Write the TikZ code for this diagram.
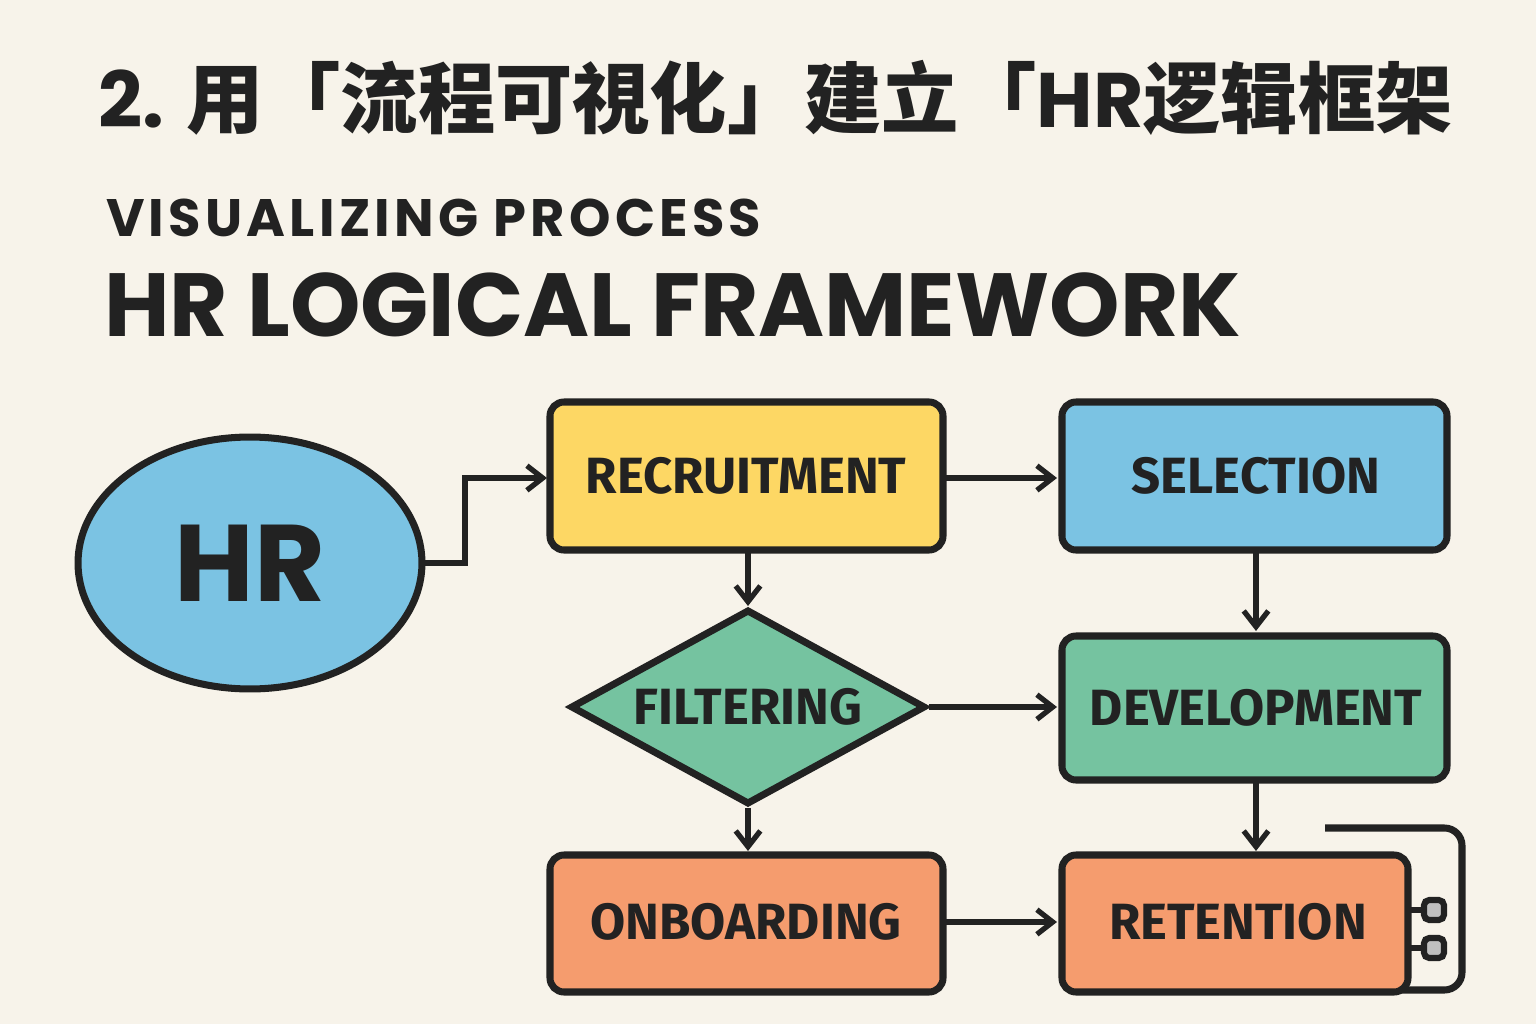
\documentclass[tikz,border=0pt]{standalone}
\usepackage{fontspec}
\setmainfont{Poppins}
\newfontfamily\cjk{Noto Sans CJK SC}
\newfontfamily\boxfont{Fira Sans}
\usetikzlibrary{shapes.geometric,arrows.meta}
\definecolor{paper}{HTML}{F7F3EA}
\definecolor{ink}{HTML}{222222}
\definecolor{hryellow}{HTML}{FDD764}
\definecolor{hrblue}{HTML}{7BC3E3}
\definecolor{hrgreen}{HTML}{75C3A0}
\definecolor{hrorange}{HTML}{F59C6E}
\tikzset{
  stepbox/.style={draw=ink, line width=4pt, rounded corners=8pt},
  boxtext/.style={font=\boxfont\bfseries\fontsize{29}{29}\selectfont, text=ink},
  link/.style={draw=ink, line width=3pt, -{Straight Barb[length=9pt,width=14pt,line width=3pt]}}
}
\begin{document}
\begin{tikzpicture}[x=0.02cm,y=-0.02cm]
  \fill[paper] (0,0) rectangle (1536,1024);
  \useasboundingbox (0,0) rectangle (1536,1024);

  % titles
  \node[anchor=west, inner sep=0, text=ink] (title) at (98,98)
    {\fontsize{44}{44}\selectfont\bfseries 2. {\cjk\bfseries 用「流程可視化」建立「}HR{\cjk\bfseries 逻辑框架}};
  \node[anchor=west, inner sep=0, text=ink] (sub) at (106,218)
    {\fontsize{30}{30}\selectfont\addfontfeature{LetterSpace=8}\bfseries VISUALIZING PROCESS};
  \node[anchor=west, inner sep=0, text=ink] (main) at (104,305)
    {\fontsize{51}{51}\selectfont\bfseries HR LOGICAL FRAMEWORK};

  % HR ellipse
  \node[ellipse, draw=ink, line width=4pt, fill=hrblue, inner sep=0,
        minimum width=6.88cm, minimum height=5.04cm] (hr) at (250,563)
    {\fontsize{62}{62}\selectfont\bfseries\color{ink}HR};

  % boxes
  \draw[stepbox, fill=hryellow] (550,402) rectangle (943,550);
  \node[boxtext] (recruit) at (746,476) {RECRUITMENT};
  \draw[stepbox, fill=hrblue] (1062,402) rectangle (1447,550);
  \node[boxtext] (select) at (1256,476) {SELECTION};
  \node[diamond, draw=ink, line width=4pt, fill=hrgreen, aspect=1.82, inner sep=0,
        minimum width=7.1cm, minimum height=3.9cm] (filter) at (748,707) {};
  \node[boxtext] (filtertext) at (748,707) {FILTERING};
  \draw[stepbox, fill=hrgreen] (1062,636) rectangle (1447,780);
  \node[boxtext] (develop) at (1256,708) {DEVELOPMENT};
  \draw[stepbox, fill=hrorange] (550,855) rectangle (943,992);
  \node[boxtext] (onboard) at (746,922) {ONBOARDING};

  % retention with frame
  \draw[draw=ink, line width=4pt, rounded corners=10pt, fill=paper] (1325,828) -- (1462,828) -- (1462,990) -- (1380,990);
  \draw[stepbox, fill=hrorange] (1062,855) rectangle (1408,992);
  \node[boxtext] (retain) at (1238,922) {RETENTION};
  \foreach \py in {910,948}{
    \draw[ink, line width=3.5pt] (1408,\py) -- (1424,\py);
    \draw[ink, line width=3.5pt, fill=gray!50, rounded corners=3pt] (1424,\py-10) rectangle (1444,\py+10);
  }

  % links
  \coordinate (hrout) at (423,563);
  \draw[link] (hrout) -- (465,563) |- (547,478);
  \draw[link] (943,478) -- (1057,478);
  \draw[link] (748,550) -- (filter.north);
  \draw[link] (filter.south) -- (748,851);
  \draw[link] (filter.east) -- (1057,707);
  \draw[link] (1256,550) -- (1256,631);
  \draw[link] (1256,780) -- (1256,851);
  \draw[link] (943,922) -- (1057,922);
\end{tikzpicture}
\end{document}
